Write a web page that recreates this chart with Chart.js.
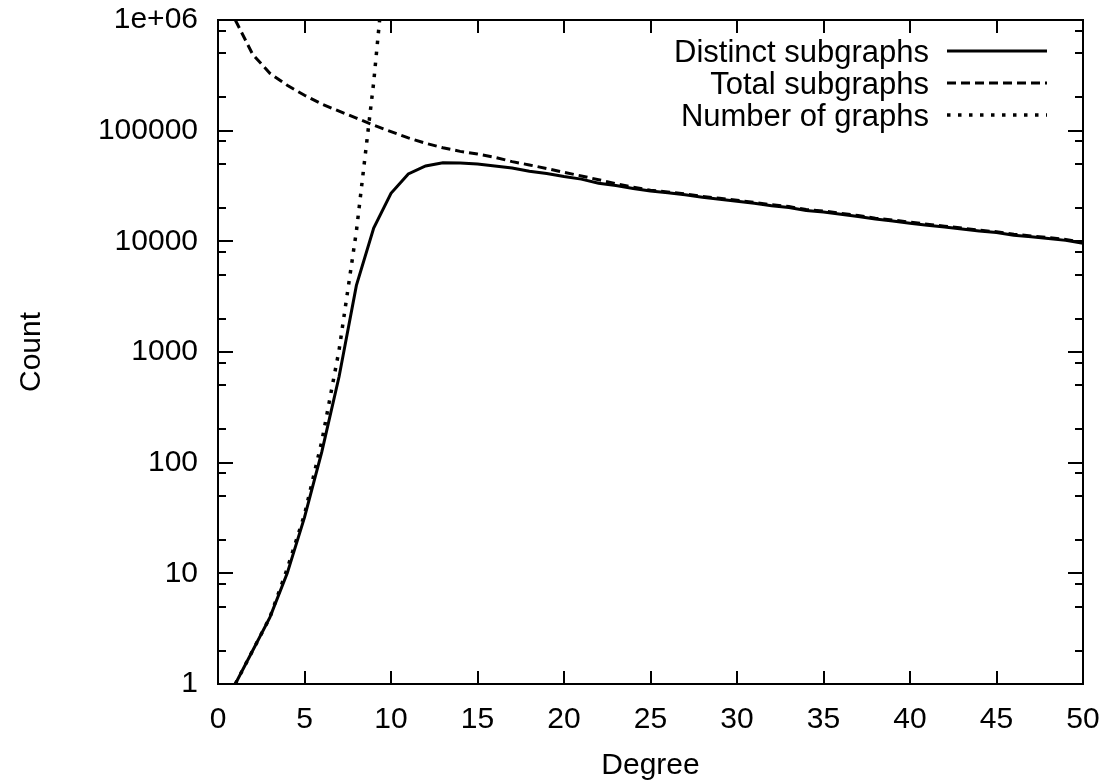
<!DOCTYPE html>
<html>
<head>
<meta charset="utf-8">
<script src="https://cdn.jsdelivr.net/npm/chart.js@4/dist/chart.umd.min.js"></script>
<style>
  html, body { margin: 0; padding: 0; background: #fff; }
  #wrap { width: 1112px; height: 781px; }
</style>
</head>
<body>
<div id="wrap"><canvas id="chart" width="1112" height="781"></canvas></div>
<script>
// degree on the x axis
const degrees = [1, 2, 3, 4, 5, 6, 7, 8, 9, 10,
  11, 12, 13, 14, 15, 16, 17, 18, 19, 20,
  21, 22, 23, 24, 25, 26, 27, 28, 29, 30,
  31, 32, 33, 34, 35, 36, 37, 38, 39, 40,
  41, 42, 43, 44, 45, 46, 47, 48, 49, 50];

const distinctSubgraphs = [1, 2, 4, 10, 32, 125, 600, 4000, 13200, 27200,
  40600, 48000, 51300, 51000, 50000, 48000, 46000, 43000, 41000, 38500,
  36500, 33500, 32000, 30000, 28500, 27500, 26300, 25000, 24000, 23000,
  22100, 21000, 20200, 19000, 18400, 17600, 16800, 15900, 15300, 14600,
  14000, 13500, 12900, 12400, 12000, 11350, 11000, 10600, 10200, 9600];

const totalSubgraphs = [1000000, 490000, 330000, 257000, 209000, 174000, 150000, 130000, 112000, 98000,
  86000, 77000, 70000, 65000, 61500, 57500, 52500, 49000, 45500, 42000,
  39000, 36000, 33200, 30800, 29000, 27900, 26800, 25500, 24500, 23500,
  22500, 21400, 20600, 19400, 18800, 17900, 17100, 16200, 15600, 14900,
  14300, 13700, 13200, 12600, 12200, 11600, 11200, 10800, 10400, 9800];

const graphDegrees = [1, 2, 3, 4, 5, 6, 7, 8, 9, 10];
const numberOfGraphs = [1, 2, 4, 11, 34, 156, 1044, 12346, 274668, 12005168];

const xTicks = [0, 5, 10, 15, 20, 25, 30, 35, 40, 45, 50];
const yTicks = [1, 10, 100, 1000, 10000, 100000, 1000000];
const yTickLabels = ['1', '10', '100', '1000', '10000', '100000', '1e+06'];
const yMinorTicks = [2, 5, 8, 20, 50, 80, 200, 500, 800, 2000, 5000, 8000,
  20000, 50000, 80000, 200000, 500000, 800000];

const FONT = 'Liberation Sans, Arial, Helvetica, sans-serif';

function pts(xs, ys) {
  return xs.map((x, i) => ({ x: x, y: ys[i] }));
}

// gnuplot style frame with inward ticks, placed from the scales
const framePlugin = {
  id: 'frame',
  afterDatasetsDraw(chart) {
    const { ctx, chartArea: a, scales } = chart;
    const xs = scales.x, ys = scales.y;
    ctx.save();
    ctx.strokeStyle = '#000';
    ctx.lineWidth = 2;
    ctx.lineCap = 'butt';
    ctx.beginPath();
    xTicks.forEach((v) => {
      const px = Math.round(xs.getPixelForValue(v));
      ctx.moveTo(px, a.bottom); ctx.lineTo(px, a.bottom - 13);
      ctx.moveTo(px, a.top); ctx.lineTo(px, a.top + 13);
    });
    yTicks.forEach((v) => {
      const py = Math.round(ys.getPixelForValue(v));
      ctx.moveTo(a.left, py); ctx.lineTo(a.left + 15, py);
      ctx.moveTo(a.right, py); ctx.lineTo(a.right - 15, py);
    });
    yMinorTicks.forEach((v) => {
      const py = Math.round(ys.getPixelForValue(v));
      ctx.moveTo(a.left, py); ctx.lineTo(a.left + 8, py);
      ctx.moveTo(a.right, py); ctx.lineTo(a.right - 8, py);
    });
    ctx.stroke();
    ctx.strokeRect(a.left, a.top, a.right - a.left, a.bottom - a.top);

    // key, text on the left and line sample on the right
    ctx.font = '31px ' + FONT;
    ctx.fillStyle = '#000';
    ctx.textAlign = 'right';
    ctx.textBaseline = 'middle';
    chart.data.datasets.forEach((ds, i) => {
      const y = 51 + i * 32;
      ctx.fillText(ds.label, 929, y + 2);
      ctx.beginPath();
      ctx.lineWidth = ds.borderWidth;
      ctx.setLineDash(ds.borderDash || []);
      ctx.moveTo(947, y);
      ctx.lineTo(1047, y);
      ctx.stroke();
    });
    ctx.restore();
  }
};

const ctx = document.getElementById('chart').getContext('2d');
const chart = new Chart(ctx, {
  type: 'line',
  data: {
    datasets: [
      {
        label: 'Distinct subgraphs',
        data: pts(degrees, distinctSubgraphs),
        borderColor: '#000',
        borderWidth: 3,
        borderDash: [],
        pointRadius: 0,
        tension: 0,
      },
      {
        label: 'Total subgraphs',
        data: pts(degrees, totalSubgraphs),
        borderColor: '#000',
        borderWidth: 3,
        borderDash: [9, 5],
        pointRadius: 0,
        tension: 0,
      },
      {
        label: 'Number of graphs',
        data: pts(graphDegrees, numberOfGraphs),
        borderColor: '#000',
        borderWidth: 3.5,
        borderDash: [3.5, 7.5],
        pointRadius: 0,
        tension: 0,
      },
    ],
  },
  options: {
    responsive: false,
    animation: false,
    layout: { padding: { top: 20, right: 29, left: 0, bottom: 0 } },
    plugins: {
      legend: { display: false },
      tooltip: { enabled: false },
    },
    scales: {
      x: {
        type: 'linear',
        min: 0,
        max: 50,
        grid: { display: false, drawTicks: false },
        border: { display: false },
        ticks: {
          stepSize: 5,
          color: '#000',
          padding: 18,
          font: { family: FONT, size: 30 },
          maxRotation: 0,
        },
        title: {
          display: true,
          text: 'Degree',
          color: '#000',
          font: { family: FONT, size: 30, lineHeight: 1 },
          padding: { top: 0, bottom: 0 },
        },
        afterFit: (s) => { s.height = 97; s.paddingLeft = 0; s.paddingRight = 0; },
      },
      y: {
        type: 'logarithmic',
        min: 1,
        max: 1000000,
        grid: { display: false, drawTicks: false },
        border: { display: false },
        afterBuildTicks: (s) => { s.ticks = yTicks.map((v) => ({ value: v })); },
        ticks: {
          color: '#000',
          padding: 20,
          font: { family: FONT, size: 30 },
          callback: (v) => yTickLabels[yTicks.indexOf(v)],
        },
        title: {
          display: true,
          text: 'Count',
          color: '#000',
          font: { family: FONT, size: 30, lineHeight: 1 },
          padding: { top: 17, bottom: 0 },
        },
        afterFit: (s) => { s.width = 218; s.paddingTop = 0; s.paddingBottom = 0; },
      },
    },
  },
  plugins: [framePlugin],
});
</script>
</body>
</html>
